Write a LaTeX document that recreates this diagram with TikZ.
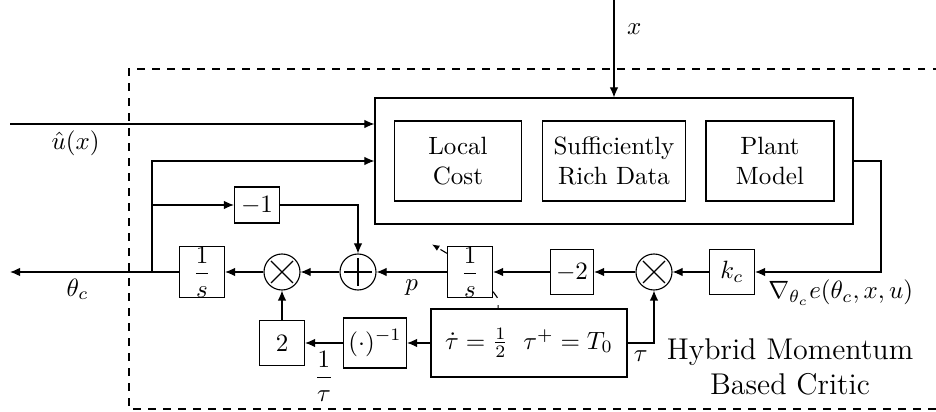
\documentclass[tikz,border=0pt]{standalone}
\usepackage{amsmath}
\usetikzlibrary{arrows.meta}
\begin{document}
\begin{tikzpicture}
    [x=0.4pt, y=-0.4pt, line width=0.45pt,
      >={Latex[length=4pt,width=3.4pt]},
      every node/.style={inner sep=0pt},
      block/.style={draw,rectangle,minimum width=18pt,minimum height=18pt},
      mult/.style={draw,circle,minimum size=14.4pt,
        path picture={\draw ([shift={(-4.4pt,-4.4pt)}]path picture bounding box.center) -- ([shift={(4.4pt,4.4pt)}]path picture bounding box.center)
          ([shift={(-4.4pt,4.4pt)}]path picture bounding box.center) -- ([shift={(4.4pt,-4.4pt)}]path picture bounding box.center);}},
      sum/.style={draw,circle,minimum size=14.4pt,
        path picture={\draw ([xshift=-5.6pt]path picture bounding box.center) -- ([xshift=5.6pt]path picture bounding box.center)
          ([yshift=-5.6pt]path picture bounding box.center) -- ([yshift=5.6pt]path picture bounding box.center);}}]
    \useasboundingbox (0,0) rectangle (936,412);
    % critic frame
    \draw[dashed] (940,69) -| (129,409) -- (940,409);
    % cost, data, model
    \node[block,minimum width=191.2pt,minimum height=50.4pt] (critic) at (614,161) {};
    \node[block,minimum width=50.8pt,minimum height=32pt,align=center] (cost) at (458,161) {Local\\Cost};
    \node[block,minimum width=57.2pt,minimum height=32pt,align=center] (data) at (614,161) {Sufficiently\\Rich Data};
    \node[block,minimum width=51.2pt,minimum height=32pt,align=center] (model) at (770,161) {Plant\\Model};
    % momentum loop
    \node[block] (ints) at (202,272) {$\dfrac{1}{s}$};
    \node[mult] (mult) at (282,272) {};
    \node[sum] (sum) at (358,272) {};
    \node[block,minimum height=14.4pt] (one) at (257,205) {$-1$};
    \node[block] (intp) at (470,272) {$\dfrac{1}{s}$};
    \node[block,minimum width=17.2pt] (neg) at (572,272) {$-2$};
    \node[mult] (multt) at (654,272) {};
    \node[block] (gain) at (732,272) {$k_c$};
    \node[block] (two) at (282,343) {$2$};
    \node[block,minimum width=25.2pt,minimum height=20pt] (inv) at (375,343) {$(\cdot)^{-1}$};
    \node[block,minimum width=78.4pt,minimum height=27.2pt] (hyb) at (529,343) {$\dot{\tau}=\frac{1}{2}\hspace{6pt}\tau^{+}=T_0$};
    \node[align=center,font=\large] (title) at (790,367) {Hybrid Momentum\\Based Critic};
    \coordinate (xin) at (614,0);
    \coordinate (uin) at (10,124);
    \coordinate (thout) at (10,272);
    \coordinate (br) at (152,272);
    \coordinate (fb) at (881,272);
    % connectors
    \draw[->] (xin) -- (critic.north) node[pos=0.3,right=5pt] {$x$};
    \draw[->] (uin) -- (uin -| critic.west) node[pos=0.18,below=2.5pt] {$\hat{u}(x)$};
    \draw[->] (br) |- (critic.west);
    \draw[->] (br |- one) -- (one);
    \draw[->] (one) -| (sum);
    \draw[->] (ints) -- (thout) node[pos=0.6,below=2.5pt] {$\theta_c$};
    \draw[->] (mult) -- (ints);
    \draw[->] (sum) -- (mult);
    \draw[->] (intp) -- (sum) node[midway,below=3pt] {$p$};
    \draw[->] (neg) -- (intp);
    \draw[->] (multt) -- (neg);
    \draw[->] (gain) -- (multt);
    \draw[->] (critic.east) -| (fb) -- (gain) node[pos=0.32,below=3pt] {$\nabla_{\theta_c}e(\theta_c,x,u)$};
    \draw[->] (two) -- (mult);
    \draw[->] (inv) -- (two) node[midway,below=3pt] {$\dfrac{1}{\tau}$};
    \draw[->] (hyb) -- (inv);
    \draw[->] (hyb.east) -| (multt) node[pos=0.25,below=3pt] {$\tau$};
    % jump signals
    \draw[dashed,-{Latex[length=3pt,width=2.4pt]}] ([yshift=-2.8pt]intp.north west) -- ++(-15,-9);
    \draw[dashed] ([yshift=2.4pt]intp.south east) -- ++(5,7) coordinate (jmp) -- (jmp |- hyb.north);
\end{tikzpicture}
\end{document}
